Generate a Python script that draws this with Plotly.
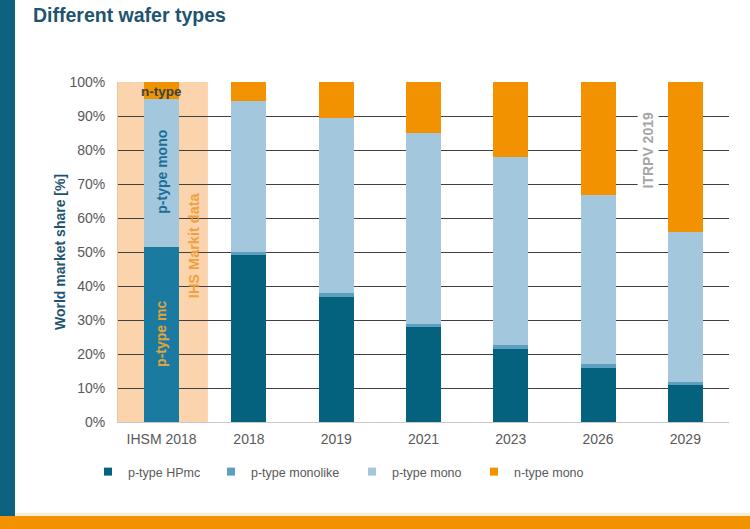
import plotly.graph_objects as go

categories = ["IHSM 2018", "2018", "2019", "2021", "2023", "2026", "2029"]
hpmc = [51.6, 49.2, 36.7, 27.8, 21.6, 16.0, 10.9]
monolike = [0.0, 0.9, 1.2, 1.0, 1.0, 1.0, 1.0]
mono = [43.4, 44.2, 51.4, 56.1, 55.2, 49.7, 43.9]
ntype = [5.0, 5.7, 10.7, 15.1, 22.2, 33.3, 44.2]
y_ticks = [0, 10, 20, 30, 40, 50, 60, 70, 80, 90, 100]
y_tick_labels = [f"{v}%" for v in y_ticks]
series_names = ["p-type HPmc", "p-type monolike", "p-type mono", "n-type mono"]

C_HPMC = "#04627f"
C_MC = "#1b7aa0"
C_MONOLIKE = "#5c9fbf"
C_MONO = "#a3c8de"
C_N = "#f39200"
C_PEACH = "#fbd4ad"
TEAL = "#1d5470"
GRAY = "#595959"
FONT = "Liberation Sans, Arial"

W, H = 750, 529
L, R, T, B = 118, 21, 82, 107
pw, ph = W - L - R, H - T - B


def px_x(p):
    return (p - L) / pw


def px_y(p):
    return (H - B - p) / ph


fig = go.Figure()
series = [hpmc, monolike, mono, ntype]
colors = [[C_MC] + [C_HPMC] * 6, C_MONOLIKE, C_MONO, C_N]
for name, vals, col in zip(series_names, series, colors):
    fig.add_trace(go.Bar(x=categories, y=vals, name=name, marker=dict(color=col, line=dict(width=0)),
                         showlegend=False, hoverinfo="name+y"))

legend_cols = [C_HPMC, C_MONOLIKE, C_MONO, C_N]
legend_text_x = [128, 251, 392, 514]
for i, (name, col) in enumerate(zip(series_names, legend_cols)):
    lg = "legend" if i == 0 else f"legend{i+1}"
    fig.add_trace(go.Scatter(x=[categories[0]], y=[None], mode="markers", name=name,
                             marker=dict(symbol="square", size=8, color=col),
                             legend=lg, showlegend=True))

legend_common = dict(orientation="h", bgcolor="rgba(0,0,0,0)", font=dict(family=FONT, size=12.5, color=GRAY),
                     itemwidth=30, yanchor="middle", xanchor="left")
layout_legends = {}
for i, tx in enumerate(legend_text_x):
    key = "legend" if i == 0 else f"legend{i+1}"
    layout_legends[key] = dict(legend_common, x=px_x(tx - 40), y=px_y(472))

shapes = [
    dict(type="rect", xref="x", yref="paper", x0=-0.5, x1=0.53, y0=0, y1=1,
         fillcolor=C_PEACH, line=dict(width=0), layer="below"),
    dict(type="rect", xref="paper", yref="paper", x0=px_x(0), x1=px_x(15), y0=px_y(516), y1=px_y(0),
         fillcolor="#0e6180", line=dict(width=0), layer="above"),
    dict(type="rect", xref="paper", yref="paper", x0=px_x(0), x1=px_x(750), y0=px_y(529), y1=px_y(516),
         fillcolor=C_N, line=dict(width=0), layer="above"),
    dict(type="rect", xref="paper", yref="paper", x0=px_x(15), x1=px_x(750), y0=px_y(516), y1=px_y(513),
         fillcolor="#fbedd5", line=dict(width=0), layer="above"),
]

annotations = [
    dict(x=px_x(60), y=0.5, xref="paper", yref="paper", xanchor="center", yanchor="middle",
         text="<b>World market share [%]</b>",
         showarrow=False, textangle=-90, font=dict(family=FONT, size=14, color=TEAL)),
    dict(x=0, y=97.3, xref="x", yref="y", text="<b>n-type</b>", showarrow=False,
         font=dict(family=FONT, size=13.5, color="#38453d")),
    dict(x=0, y=73.5, xref="x", yref="y", text="<b>p-type mono</b>", showarrow=False, textangle=-90,
         font=dict(family=FONT, size=14, color="#1a6e98")),
    dict(x=0, y=25.8, xref="x", yref="y", text="<b>p-type mc</b>", showarrow=False, textangle=-90,
         font=dict(family=FONT, size=14, color="#e3a43c")),
    dict(x=0.37, y=52, xref="x", yref="y", text="<b>IHS Markit data</b>", showarrow=False, textangle=-90,
         font=dict(family=FONT, size=14.5, color="#efa040")),
    dict(x=5.57, y=79.8, xref="x", yref="y", text="<b>ITRPV 2019</b>", showarrow=False, textangle=-90,
         bgcolor="white", borderpad=2,
         font=dict(family=FONT, size=14, color="#a6a6a6")),
]

fig.update_layout(
    width=W, height=H,
    margin=dict(l=L, r=R, t=T, b=B, autoexpand=False),
    paper_bgcolor="white", plot_bgcolor="white",
    barmode="stack", bargap=0.6,
    title=dict(text="<b>Different wafer types</b>", x=33 / W, xref="container", xanchor="left",
               y=1 - 15.5 / H, yref="container", yanchor="middle",
               font=dict(family=FONT, size=19.5, color=TEAL)),
    font=dict(family=FONT, size=14, color=GRAY),
    shapes=shapes, annotations=annotations,
    xaxis=dict(showgrid=False, showline=True, linecolor="#c8c8c8", linewidth=1,
               tickfont=dict(size=14, color=GRAY), ticks="", ticklabelstandoff=4),
    yaxis=dict(range=[0, 100], tickvals=y_ticks, ticktext=y_tick_labels,
               showgrid=True, gridcolor="#404040", gridwidth=1, zeroline=False,
               showline=True, linecolor="#e0c8a8", linewidth=1,
               tickfont=dict(size=14, color=GRAY), ticks="", ticklabelstandoff=9),
    **layout_legends,
)

fig.write_html("out.html", config={"displayModeBar": False},
               post_script="document.body.style.margin='0';document.body.style.padding='0';")
